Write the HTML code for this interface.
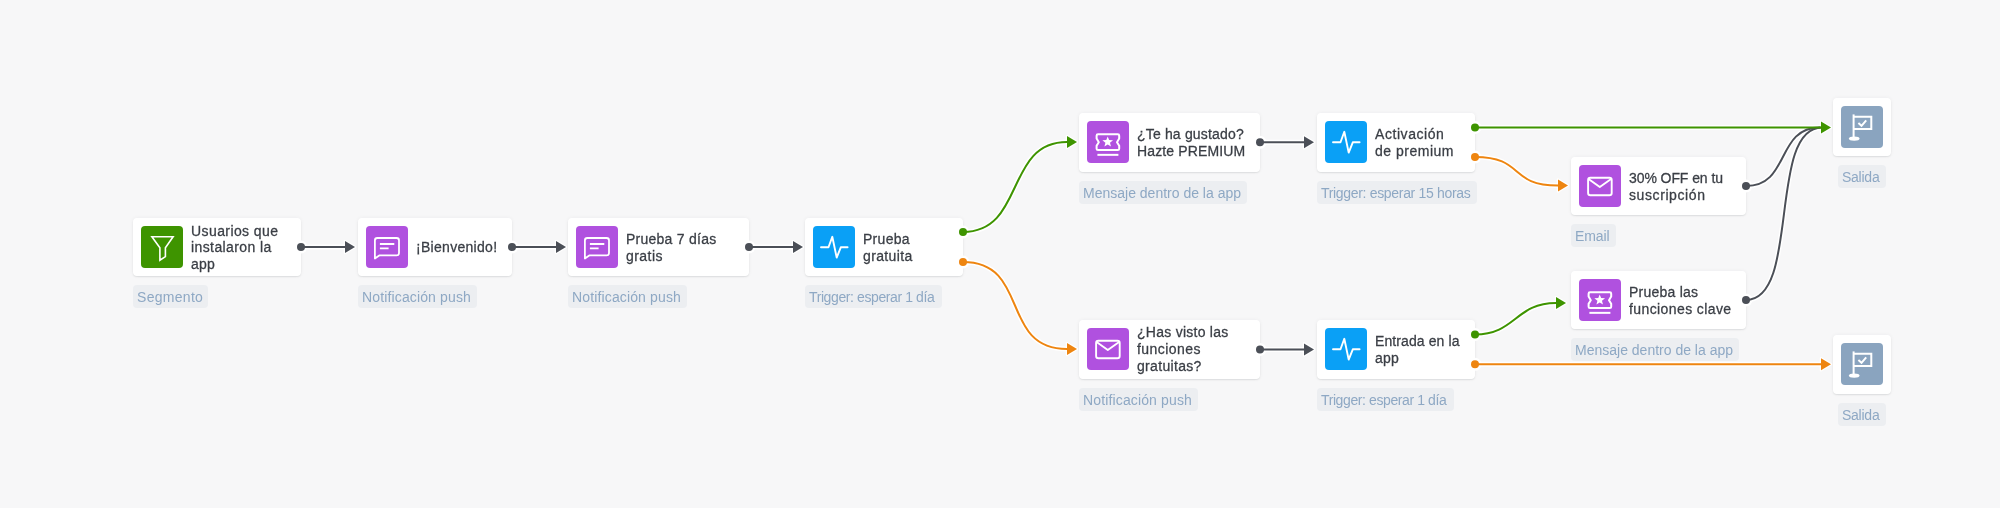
<!DOCTYPE html>
<html><head><meta charset="utf-8">
<style>
html,body{margin:0;padding:0;}
body{will-change:transform;width:2000px;height:508px;background:#f7f7f8;position:relative;overflow:hidden;font-family:"Liberation Sans",sans-serif;}
.card{position:absolute;height:58px;background:#fff;border-radius:4px;box-shadow:0 1px 1.5px rgba(30,40,50,0.10),0 0 4px rgba(30,40,50,0.05);box-sizing:border-box;}
.ic{position:absolute;left:8px;top:8px;width:42px;height:42px;border-radius:4px;}
.ic svg{position:absolute;left:0;top:0;width:42px;height:42px;}
.g{background:#3e9400}.p{background:#b051df}.b{background:#0aa0f6}.s{background:#8aa4bf}
.t{position:absolute;left:58px;top:0;height:58px;display:flex;align-items:center;font-size:14px;line-height:16.6px;color:#3a3e45;padding-top:1px;box-sizing:border-box;letter-spacing:0.15px;white-space:nowrap;-webkit-text-stroke:0.28px #3a3e45;}
.lb{position:absolute;height:23px;background:#eceef1;border-radius:4px;color:#8ea8c4;font-size:14px;line-height:24px;padding-left:4px;box-sizing:border-box;white-space:nowrap;}
svg.links{position:absolute;left:0;top:0;width:2000px;height:508px;}
</style></head><body>

<!-- cards -->
<div class="card" style="left:133px;top:218px;width:168px;height:58px"><div class="ic g"><svg viewBox="0 0 42 42"><path d="M10.9 10.8 H32.1 L24.4 21.8 V30.6 L18.9 34.2 V21.8 Z" fill="none" stroke="#fff" stroke-width="1.6" stroke-linejoin="miter"/></svg></div><div class="t" style="height:58px;padding-top:1px"><div><span style="letter-spacing:0.41px">Usuarios que</span><br><span style="letter-spacing:0.4px">instalaron la</span><br><span style="letter-spacing:0.25px">app</span></div></div></div>
<div class="lb" style="left:133px;top:285px;width:75px;letter-spacing:0.29px">Segmento</div>
<div class="card" style="left:358px;top:218px;width:154px;height:58px"><div class="ic p"><svg viewBox="0 0 42 42"><use href="#chat"/></svg></div><div class="t" style="height:58px;padding-top:1px"><div><span style="letter-spacing:0.29px">¡Bienvenido!</span></div></div></div>
<div class="lb" style="left:358px;top:285px;width:119px;letter-spacing:0.14px">Notificación push</div>
<div class="card" style="left:568px;top:218px;width:181px;height:58px"><div class="ic p"><svg viewBox="0 0 42 42"><use href="#chat"/></svg></div><div class="t" style="height:58px;padding-top:1px"><div><span style="letter-spacing:0.25px">Prueba 7 días</span><br><span style="letter-spacing:0.46px">gratis</span></div></div></div>
<div class="lb" style="left:568px;top:285px;width:119px;letter-spacing:0.14px">Notificación push</div>
<div class="card" style="left:805px;top:218px;width:158px;height:58px"><div class="ic b"><svg viewBox="0 0 42 42"><use href="#pulse"/></svg></div><div class="t" style="height:58px;padding-top:1px"><div><span style="letter-spacing:0.28px">Prueba</span><br><span style="letter-spacing:0.37px">gratuita</span></div></div></div>
<div class="lb" style="left:805px;top:285px;width:137px;letter-spacing:-0.4px">Trigger: esperar 1 día</div>
<div class="card" style="left:1079px;top:113px;width:181px;height:59px"><div class="ic p"><svg viewBox="0 0 42 42"><use href="#ticket"/></svg></div><div class="t" style="height:59px;padding-top:1px"><div><span style="letter-spacing:0.17px">¿Te ha gustado?</span><br><span style="letter-spacing:0.14px">Hazte PREMIUM</span></div></div></div>
<div class="lb" style="left:1079px;top:181px;width:168px;letter-spacing:0.0px">Mensaje dentro de la app</div>
<div class="card" style="left:1317px;top:113px;width:158px;height:59px"><div class="ic b"><svg viewBox="0 0 42 42"><use href="#pulse"/></svg></div><div class="t" style="height:59px;padding-top:1px"><div><span style="letter-spacing:0.56px">Activación</span><br><span style="letter-spacing:0.51px">de premium</span></div></div></div>
<div class="lb" style="left:1317px;top:181px;width:160px;letter-spacing:-0.32px">Trigger: esperar 15 horas</div>
<div class="card" style="left:1571px;top:157px;width:175px;height:58px"><div class="ic p"><svg viewBox="0 0 42 42"><use href="#mail"/></svg></div><div class="t" style="height:58px;padding-top:1px"><div><span style="letter-spacing:-0.08px">30% OFF en tu</span><br><span style="letter-spacing:0.59px">suscripción</span></div></div></div>
<div class="lb" style="left:1571px;top:224px;width:45px;letter-spacing:-0.12px">Email</div>
<div class="card" style="left:1833px;top:98px;width:58px;height:58px"><div class="ic s"><svg viewBox="0 0 42 42"><use href="#flag"/></svg></div></div>
<div class="lb" style="left:1838px;top:165px;width:48px;letter-spacing:-0.25px">Salida</div>
<div class="card" style="left:1079px;top:320px;width:181px;height:59px"><div class="ic p"><svg viewBox="0 0 42 42"><use href="#mail"/></svg></div><div class="t" style="height:59px;padding-top:1px"><div style="margin-top:-1.5px"><span style="letter-spacing:0.26px">¿Has visto las</span><br><span style="letter-spacing:0.44px">funciones</span><br><span style="letter-spacing:0.32px">gratuitas?</span></div></div></div>
<div class="lb" style="left:1079px;top:388px;width:119px;letter-spacing:0.14px">Notificación push</div>
<div class="card" style="left:1317px;top:320px;width:158px;height:59px"><div class="ic b"><svg viewBox="0 0 42 42"><use href="#pulse"/></svg></div><div class="t" style="height:59px;padding-top:1px"><div><span style="letter-spacing:0.1px">Entrada en la</span><br><span style="letter-spacing:0.25px">app</span></div></div></div>
<div class="lb" style="left:1317px;top:388px;width:137px;letter-spacing:-0.4px">Trigger: esperar 1 día</div>
<div class="card" style="left:1571px;top:271px;width:175px;height:58px"><div class="ic p"><svg viewBox="0 0 42 42"><use href="#ticket"/></svg></div><div class="t" style="height:58px;padding-top:1px"><div><span style="letter-spacing:0.24px">Prueba las</span><br><span style="letter-spacing:0.4px">funciones clave</span></div></div></div>
<div class="lb" style="left:1571px;top:338px;width:168px;letter-spacing:0.0px">Mensaje dentro de la app</div>
<div class="card" style="left:1833px;top:335px;width:58px;height:59px"><div class="ic s"><svg viewBox="0 0 42 42"><use href="#flag"/></svg></div></div>
<div class="lb" style="left:1838px;top:403px;width:48px;letter-spacing:-0.25px">Salida</div>

<svg width="0" height="0" style="position:absolute">
<defs>
<g id="chat" fill="none" stroke="#fff" stroke-width="1.8" stroke-linejoin="round"><path d="M8.9 14.4 Q8.9 12 11.3 12 H30.6 Q33 12 33 14.4 V26.9 Q33 29.3 30.6 29.3 H13.6 L8.9 32.6 Z"/><path d="M13.9 18 H28.3 M13.9 22.4 H22.6"/></g>
<g id="pulse" fill="none" stroke="#fff" stroke-width="1.9" stroke-linejoin="round" stroke-linecap="round"><path d="M8 21.3 H15.5 L19.3 10.8 L23.7 31.6 L27.8 21.3 H34.6"/></g>
<g id="mail" fill="none" stroke="#fff" stroke-width="1.9" stroke-linejoin="round"><rect x="9.1" y="12.8" width="23.6" height="17.4" rx="2.3"/><path d="M9.6 14 L20.8 22 L32.1 14"/></g>
<g id="ticket" fill="none" stroke="#fff" stroke-width="2" stroke-linejoin="round"><path d="M11 13.3 H30.8 Q32.2 13.3 32.2 14.7 V17.6 L30 21.2 L32.2 24.8 V27.7 Q32.2 29.1 30.8 29.1 H11 Q9.6 29.1 9.6 27.7 V24.8 L11.8 21.2 L9.6 17.6 V14.7 Q9.6 13.3 11 13.3 Z"/><path d="M10.4 33.85 H31.4"/><path d="M20.70 15.40 L22.11 19.06 L26.03 19.27 L22.98 21.74 L23.99 25.53 L20.70 23.40 L17.41 25.53 L18.42 21.74 L15.37 19.27 L19.29 19.06 Z" fill="#fff" stroke="none"/></g>
<g id="flag" fill="none" stroke="#fff" stroke-width="2"><path d="M12.6 8.4 V31.5"/><path d="M12.6 10.7 H30.3 V23 H12.6"/><path d="M17.4 17.1 L20.5 19.8 L25.2 14.3" stroke-linejoin="miter"/><ellipse cx="13.2" cy="32.6" rx="5.3" ry="2.2" fill="#fff" stroke="none"/></g>
</defs></svg>

<svg class="links" viewBox="0 0 2000 508">
<g fill="none" stroke="#fff" stroke-width="5">
<path d="M301 247 H346"/>
<circle fill="#fff" stroke="none" cx="301" cy="247" r="6.5"/>
<path d="M355 247 L345 241 V253 Z" stroke-width="2.5" stroke-linejoin="round"/>
<path d="M512 247 H557"/>
<circle fill="#fff" stroke="none" cx="512" cy="247" r="6.5"/>
<path d="M566 247 L556 241 V253 Z" stroke-width="2.5" stroke-linejoin="round"/>
<path d="M749 247 H794"/>
<circle fill="#fff" stroke="none" cx="749" cy="247" r="6.5"/>
<path d="M803 247 L793 241 V253 Z" stroke-width="2.5" stroke-linejoin="round"/>
<path d="M1260 142.3 H1305"/>
<circle fill="#fff" stroke="none" cx="1260" cy="142.3" r="6.5"/>
<path d="M1314 142.3 L1304 136.3 V148.3 Z" stroke-width="2.5" stroke-linejoin="round"/>
<path d="M1260 349.4 H1305"/>
<circle fill="#fff" stroke="none" cx="1260" cy="349.4" r="6.5"/>
<path d="M1314 349.4 L1304 343.4 V355.4 Z" stroke-width="2.5" stroke-linejoin="round"/>
<path d="M1746 186 C1790.4 186 1775.6 127.5 1820 127.5"/>
<circle fill="#fff" stroke="none" cx="1746" cy="186" r="6.5"/>
<path d="M1746 300 C1800.7 300 1767.3 127.5 1822 127.5"/>
<circle fill="#fff" stroke="none" cx="1746" cy="300" r="6.5"/>
<path d="M963 232 C1025.4 232 1004.6 142 1067 142"/>
<circle fill="#fff" stroke="none" cx="963" cy="232" r="6.5"/>
<path d="M1077 142 L1067 136 V148 Z" stroke-width="2.5" stroke-linejoin="round"/>
<path d="M963 262 C1030.6 262 999.4 349 1067 349"/>
<circle fill="#fff" stroke="none" cx="963" cy="262" r="6.5"/>
<path d="M1077 349 L1067 343 V355 Z" stroke-width="2.5" stroke-linejoin="round"/>
<path d="M1475 127.5 H1822"/>
<circle fill="#fff" stroke="none" cx="1475" cy="127.5" r="6.5"/>
<path d="M1831 127.5 L1821 121.5 V133.5 Z" stroke-width="2.5" stroke-linejoin="round"/>
<path d="M1475 157 C1524.8 157 1508.2 185.5 1558 185.5"/>
<circle fill="#fff" stroke="none" cx="1475" cy="157" r="6.5"/>
<path d="M1568 185.5 L1558 179.5 V191.5 Z" stroke-width="2.5" stroke-linejoin="round"/>
<path d="M1475 334.5 C1515.5 334.5 1515.5 303 1556 303"/>
<circle fill="#fff" stroke="none" cx="1475" cy="334.5" r="6.5"/>
<path d="M1566 303 L1556 297 V309 Z" stroke-width="2.5" stroke-linejoin="round"/>
<path d="M1475 364.3 H1822"/>
<circle fill="#fff" stroke="none" cx="1475" cy="364.3" r="6.5"/>
<path d="M1831 364.3 L1821 358.3 V370.3 Z" stroke-width="2.5" stroke-linejoin="round"/>
</g>
<g fill="none" stroke-width="2">
<path d="M301 247 H346" stroke="#4b4f57"/>
<circle cx="301" cy="247" r="4" stroke="none" fill="#4b4f57"/>
<path d="M355 247 L345 241 V253 Z" stroke="none" fill="#4b4f57"/>
<path d="M512 247 H557" stroke="#4b4f57"/>
<circle cx="512" cy="247" r="4" stroke="none" fill="#4b4f57"/>
<path d="M566 247 L556 241 V253 Z" stroke="none" fill="#4b4f57"/>
<path d="M749 247 H794" stroke="#4b4f57"/>
<circle cx="749" cy="247" r="4" stroke="none" fill="#4b4f57"/>
<path d="M803 247 L793 241 V253 Z" stroke="none" fill="#4b4f57"/>
<path d="M1260 142.3 H1305" stroke="#4b4f57"/>
<circle cx="1260" cy="142.3" r="4" stroke="none" fill="#4b4f57"/>
<path d="M1314 142.3 L1304 136.3 V148.3 Z" stroke="none" fill="#4b4f57"/>
<path d="M1260 349.4 H1305" stroke="#4b4f57"/>
<circle cx="1260" cy="349.4" r="4" stroke="none" fill="#4b4f57"/>
<path d="M1314 349.4 L1304 343.4 V355.4 Z" stroke="none" fill="#4b4f57"/>
<path d="M1746 186 C1790.4 186 1775.6 127.5 1820 127.5" stroke="#4b4f57"/>
<circle cx="1746" cy="186" r="4" stroke="none" fill="#4b4f57"/>
<path d="M1746 300 C1800.7 300 1767.3 127.5 1822 127.5" stroke="#4b4f57"/>
<circle cx="1746" cy="300" r="4" stroke="none" fill="#4b4f57"/>
<path d="M963 232 C1025.4 232 1004.6 142 1067 142" stroke="#3e9400"/>
<circle cx="963" cy="232" r="4" stroke="none" fill="#3e9400"/>
<path d="M1077 142 L1067 136 V148 Z" stroke="none" fill="#3e9400"/>
<path d="M963 262 C1030.6 262 999.4 349 1067 349" stroke="#ee8510"/>
<circle cx="963" cy="262" r="4" stroke="none" fill="#ee8510"/>
<path d="M1077 349 L1067 343 V355 Z" stroke="none" fill="#ee8510"/>
<path d="M1475 127.5 H1822" stroke="#3e9400"/>
<circle cx="1475" cy="127.5" r="4" stroke="none" fill="#3e9400"/>
<path d="M1831 127.5 L1821 121.5 V133.5 Z" stroke="none" fill="#3e9400"/>
<path d="M1475 157 C1524.8 157 1508.2 185.5 1558 185.5" stroke="#ee8510"/>
<circle cx="1475" cy="157" r="4" stroke="none" fill="#ee8510"/>
<path d="M1568 185.5 L1558 179.5 V191.5 Z" stroke="none" fill="#ee8510"/>
<path d="M1475 334.5 C1515.5 334.5 1515.5 303 1556 303" stroke="#3e9400"/>
<circle cx="1475" cy="334.5" r="4" stroke="none" fill="#3e9400"/>
<path d="M1566 303 L1556 297 V309 Z" stroke="none" fill="#3e9400"/>
<path d="M1475 364.3 H1822" stroke="#ee8510"/>
<circle cx="1475" cy="364.3" r="4" stroke="none" fill="#ee8510"/>
<path d="M1831 364.3 L1821 358.3 V370.3 Z" stroke="none" fill="#ee8510"/>
</g>
</svg>
</body></html>
